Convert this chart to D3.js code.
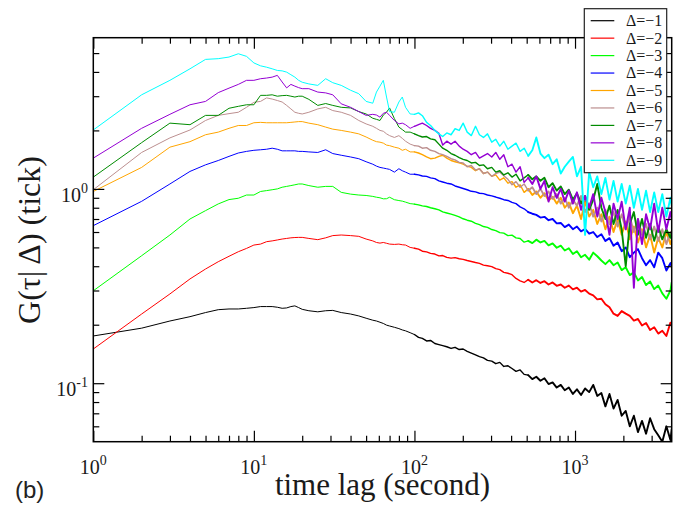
<!DOCTYPE html>
<html>
<head>
<meta charset="utf-8">
<script src="https://cdn.jsdelivr.net/npm/d3@7"></script>
<style>
body{margin:0;background:#fff;}
svg{display:block;}
</style>
</head>
<body>
<svg id="chart" width="681" height="506"></svg>
<script>
// time lag (second): first the integer part, then the long tail
const lags = [1,2,3,4,5,6,7,8,9,10,11,12,13,14,15,16,17,18,19,20,
  22,25,28,31,35,40,45,50,55,58,61,64,67,70,75,80,84,88,94,
  100,106,112,119,126,134,142,150,159,169,179,190,201,213,226,240,254,269,285,303,
  321,340,360,382,405,429,455,482,511,542,574,609,645,684,725,769,815,863,915,970,
  1028,1090,1155,1225,1298,1376,1459,1546,1639,1737,1842,1952,2069,2193,2325,2465,2613,2769,2935,3112,
  3298,3496,3706,3928,4000];

// G(tau|Delta) for Delta = -1 ... -9
const d1 = [0.175,0.192,0.209,0.220,0.231,0.239,0.241,0.241,0.243,0.245,0.248,0.248,0.248,0.246,0.243,0.244,0.248,0.250,0.245,0.240,
  0.236,0.233,0.236,0.237,0.231,0.227,0.222,0.216,0.211,0.209,0.206,0.203,0.199,0.197,0.194,0.191,0.188,0.186,0.182,
  0.178,0.172,0.170,0.165,0.166,0.160,0.158,0.156,0.154,0.151,0.153,0.149,0.150,0.146,0.143,0.140,0.137,0.135,0.131,0.130,
  0.126,0.128,0.122,0.123,0.119,0.115,0.117,0.111,0.110,0.105,0.108,0.103,0.106,0.099,0.101,0.095,0.098,0.092,0.095,0.088,
  0.093,0.087,0.094,0.090,0.098,0.086,0.089,0.076,0.088,0.074,0.082,0.068,0.072,0.060,0.068,0.056,0.064,0.055,0.066,0.058,
  0.054,0.050,0.060,0.051,0.058];
const d2 = [0.150,0.227,0.288,0.344,0.387,0.422,0.450,0.475,0.494,0.514,0.520,0.535,0.540,0.546,0.552,0.556,0.560,0.562,0.563,0.563,
  0.556,0.548,0.560,0.575,0.579,0.575,0.570,0.552,0.540,0.530,0.526,0.530,0.525,0.520,0.518,0.520,0.516,0.514,0.500,
  0.495,0.490,0.478,0.474,0.466,0.462,0.452,0.454,0.444,0.440,0.443,0.437,0.434,0.428,0.423,0.418,0.414,0.405,0.402,0.398,
  0.389,0.384,0.372,0.368,0.362,0.346,0.336,0.330,0.341,0.330,0.339,0.328,0.335,0.322,0.330,0.317,0.322,0.310,0.318,0.304,
  0.310,0.296,0.302,0.289,0.283,0.270,0.272,0.255,0.246,0.228,0.222,0.235,0.228,0.222,0.210,0.214,0.198,0.204,0.188,0.194,
  0.180,0.186,0.175,0.205,0.200];
const d3v = [0.299,0.453,0.579,0.700,0.773,0.837,0.881,0.895,0.930,0.930,0.970,0.980,0.990,1.000,1.020,1.030,1.040,1.050,1.060,1.060,
  1.040,1.020,1.030,1.030,0.960,0.940,0.930,0.925,0.915,0.906,0.900,0.889,0.890,0.906,0.880,0.871,0.865,0.855,0.840,
  0.835,0.828,0.818,0.812,0.800,0.790,0.780,0.762,0.752,0.742,0.730,0.718,0.702,0.690,0.682,0.665,0.655,0.640,0.634,0.618,
  0.610,0.596,0.592,0.575,0.578,0.560,0.556,0.532,0.540,0.526,0.548,0.530,0.540,0.512,0.524,0.498,0.510,0.482,0.495,0.462,
  0.478,0.445,0.458,0.432,0.470,0.450,0.428,0.410,0.430,0.405,0.418,0.382,0.395,0.360,0.372,0.338,0.352,0.320,0.334,0.305,
  0.318,0.290,0.272,0.300,0.330];
const d4 = [0.647,0.863,1.06,1.23,1.33,1.40,1.47,1.53,1.56,1.58,1.59,1.60,1.62,1.60,1.57,1.57,1.57,1.57,1.56,1.56,
  1.55,1.54,1.59,1.52,1.49,1.46,1.43,1.38,1.34,1.31,1.29,1.28,1.27,1.26,1.22,1.27,1.24,1.22,1.19,
  1.19,1.18,1.165,1.16,1.14,1.13,1.10,1.085,1.07,1.06,1.035,1.02,1.005,0.990,0.972,0.965,0.950,0.945,0.930,0.920,
  0.908,0.895,0.880,0.872,0.852,0.840,0.808,0.790,0.760,0.745,0.735,0.712,0.718,0.690,0.700,0.665,0.668,0.636,0.655,0.620,
  0.640,0.605,0.622,0.588,0.600,0.565,0.584,0.540,0.558,0.510,0.530,0.478,0.500,0.445,0.470,0.490,0.440,0.405,0.430,0.395,
  0.470,0.440,0.380,0.415,0.400];
const d5 = [0.97,1.29,1.64,1.75,1.90,1.96,2.05,2.12,2.12,2.19,2.20,2.19,2.19,2.19,2.19,2.19,2.20,2.21,2.22,2.22,
  2.18,2.14,2.08,2.03,2.00,1.96,1.92,1.85,1.78,1.75,1.74,1.72,1.68,1.67,1.64,1.62,1.58,1.60,1.55,
  1.55,1.53,1.50,1.46,1.43,1.44,1.47,1.49,1.44,1.40,1.38,1.36,1.34,1.31,1.29,1.24,1.27,1.20,1.22,1.16,
  1.18,1.11,1.14,1.07,1.09,1.02,1.05,0.96,1.00,0.93,0.97,0.90,0.95,0.87,0.91,0.84,0.90,0.80,0.85,0.75,
  0.82,0.70,0.86,0.72,0.78,0.66,0.74,0.62,0.72,0.60,0.70,0.58,0.68,0.55,0.64,0.53,0.62,0.50,0.58,0.47,
  0.56,0.50,0.60,0.52,0.55];
const d6 = [0.99,1.54,1.83,2.01,2.25,2.39,2.44,2.48,2.63,2.79,2.82,2.94,2.90,2.85,2.80,2.69,2.58,2.48,2.45,2.43,
  2.48,2.58,2.63,2.53,2.48,2.39,2.25,2.16,2.10,2.05,2.00,1.98,1.92,1.88,1.84,1.88,1.82,1.76,1.70,
  1.67,1.66,1.62,1.63,1.58,1.56,1.52,1.50,1.47,1.43,1.41,1.37,1.36,1.30,1.32,1.25,1.27,1.20,1.22,1.16,
  1.20,1.22,1.17,1.12,1.05,1.09,1.02,1.06,0.98,1.02,0.94,1.00,0.92,0.97,0.89,0.94,0.84,0.90,0.80,0.88,
  0.82,0.92,0.76,0.84,0.72,0.80,0.68,0.78,0.66,0.76,0.64,0.74,0.62,0.72,0.60,0.70,0.58,0.66,0.55,0.64,
  0.54,0.62,0.52,0.60,0.58];
const d7 = [1.15,1.73,2.18,2.14,2.39,2.39,2.60,2.66,2.71,2.71,3.03,3.03,3.05,3.00,3.02,3.03,3.00,2.97,3.00,3.00,
  2.89,2.69,2.75,2.69,2.63,2.61,2.50,2.43,2.31,2.28,2.25,2.40,2.48,2.61,2.30,2.08,2.02,1.96,1.96,
  1.92,1.88,1.85,1.86,1.81,1.79,1.70,1.62,1.58,1.52,1.49,1.45,1.42,1.40,1.36,1.37,1.32,1.33,1.27,1.29,
  1.22,1.24,1.18,1.21,1.15,1.19,1.10,1.14,1.18,1.12,1.16,1.10,1.14,1.02,1.07,0.98,1.03,0.94,0.99,0.88,
  0.95,0.84,0.92,0.78,0.88,1.06,0.80,0.70,0.82,0.66,0.78,0.62,0.40,0.66,0.76,0.58,0.70,0.56,0.66,0.54,
  0.64,0.55,0.62,0.56,0.60];
const d8 = [1.44,2.05,2.42,2.71,2.82,3.13,3.30,3.45,3.62,3.62,3.69,3.72,3.76,3.84,3.55,3.31,3.45,3.38,3.32,3.28,
  3.28,3.15,3.12,3.05,2.74,2.63,2.50,2.39,2.42,2.40,2.34,2.45,2.48,2.39,2.25,2.16,2.18,2.14,2.05,
  2.10,2.14,2.18,2.12,2.05,2.00,1.93,1.68,1.76,1.70,1.76,1.66,1.60,1.56,1.50,1.54,1.44,1.48,1.52,1.46,
  1.54,1.42,1.50,1.30,1.34,1.22,1.30,1.08,1.14,1.06,1.16,1.00,1.10,0.86,1.02,0.90,1.00,0.86,0.98,0.84,
  0.96,0.78,0.92,0.80,0.94,0.72,0.90,0.76,0.58,0.84,0.70,0.86,0.62,0.80,0.31,0.70,0.52,0.74,0.62,0.84,
  0.60,0.80,0.62,0.76,0.70];
const d9 = [2.01,3.05,3.62,4.15,4.64,4.68,4.77,4.96,4.81,4.45,4.30,4.23,4.15,4.07,4.05,3.99,3.87,3.76,3.62,3.54,
  3.47,3.41,3.69,3.52,3.41,3.22,3.09,2.82,2.76,3.15,3.38,3.62,2.97,2.50,2.48,2.80,2.97,2.63,2.43,
  2.42,2.46,2.38,2.20,2.12,2.00,1.92,1.86,1.94,1.90,2.04,2.00,2.18,1.96,1.88,2.10,1.90,1.84,1.92,1.74,
  1.80,1.66,1.76,1.60,1.66,1.72,1.56,1.62,1.48,1.58,1.84,1.52,1.44,1.50,1.34,1.42,1.20,1.30,1.38,1.46,
  1.16,1.30,0.58,1.22,1.02,1.16,0.94,1.14,0.88,1.10,0.86,1.06,0.84,1.04,0.80,1.00,0.78,0.98,0.76,0.96,
  0.76,0.94,0.72,0.90,0.82];

const seriesValues = [d1, d2, d3v, d4, d5, d6, d7, d8, d9];
const seriesNames = ["Δ=−1","Δ=−2","Δ=−3","Δ=−4","Δ=−5","Δ=−6","Δ=−7","Δ=−8","Δ=−9"];
const seriesColors = ["#000000","#ff0000","#00ff00","#0000ff","#ffa500","#bc8f8f","#008b00","#9400d3","#00ffff"];

const xMajor = [1, 10, 100, 1000];
const xMajorExp = ["0", "1", "2", "3"];
const xMinor = [2,3,4,5,6,7,8,9,20,30,40,50,60,70,80,90,200,300,400,500,600,700,800,900,2000,3000];
const yMajor = [0.1, 1];
const yMajorExp = ["-1", "0"];
const yMinor = [0.06,0.07,0.08,0.09,0.2,0.3,0.4,0.5,0.6,0.7,0.8,0.9,2,3,4,5];

const serif = "'Liberation Serif','Times New Roman',serif";
const ink = "#1a1a1a";

const plotL = 93.3, plotR = 671.7, plotT = 37.7, plotB = 441.7;

const x = d3.scaleLog().domain([1, 4000]).range([plotL, plotR]);
const y = d3.scaleLog().domain([0.05, 6]).range([plotB, plotT]);

const svg = d3.select("#chart");

svg.append("defs").append("clipPath").attr("id", "plotClip")
  .append("rect")
  .attr("x", plotL).attr("y", plotT)
  .attr("width", plotR - plotL).attr("height", plotB - plotT);

// curves: the dense, noisy tail looks thicker in the original, so the
// path is drawn in pieces of growing width (piece ends are shared lags)
const pieces = [[1, 100, 1.0], [100, 511, 1.4], [511, 4000, 1.9]];
const line = d3.line().x(d => x(d[0])).y(d => y(d[1]));
const curves = svg.append("g").attr("clip-path", "url(#plotClip)");
seriesValues.forEach((vals, s) => {
  const pts = lags.map((t, i) => [t, vals[i]]);
  pieces.forEach(([a, b, w]) => {
    curves.append("path")
      .attr("fill", "none")
      .attr("stroke", seriesColors[s])
      .attr("stroke-width", w)
      .attr("stroke-linejoin", "round")
      .attr("stroke-linecap", "round")
      .attr("d", line(pts.filter(p => p[0] >= a && p[0] <= b)));
  });
});

// ticks on all four sides, pointing inward
const tickAxis = (axisFn, scale, values, size, tr) => {
  const g = svg.append("g").attr("transform", tr)
    .call(axisFn(scale).tickValues(values).tickSize(size).tickSizeOuter(0).tickFormat(""));
  g.select(".domain").remove();
  g.selectAll(".tick line").attr("stroke", "#000").attr("stroke-width", 1.2);
};
tickAxis(d3.axisBottom, x, xMajor, -11, `translate(0,${plotB})`);
tickAxis(d3.axisBottom, x, xMinor, -6, `translate(0,${plotB})`);
tickAxis(d3.axisTop, x, xMajor, -11, `translate(0,${plotT})`);
tickAxis(d3.axisTop, x, xMinor, -6, `translate(0,${plotT})`);
tickAxis(d3.axisLeft, y, yMajor, -11, `translate(${plotL},0)`);
tickAxis(d3.axisLeft, y, yMinor, -6, `translate(${plotL},0)`);
tickAxis(d3.axisRight, y, yMajor, -11, `translate(${plotR},0)`);
tickAxis(d3.axisRight, y, yMinor, -6, `translate(${plotR},0)`);

svg.append("rect")
  .attr("x", plotL).attr("y", plotT)
  .attr("width", plotR - plotL).attr("height", plotB - plotT)
  .attr("fill", "none").attr("stroke", "#000").attr("stroke-width", 1.5);

// tick labels 10^n
svg.append("g").selectAll("text").data(xMajor).join("text")
  .attr("x", d => x(d)).attr("y", 474)
  .attr("text-anchor", "middle")
  .attr("font-family", serif).attr("font-size", 20).attr("fill", ink)
  .each(function (d, i) {
    const t = d3.select(this);
    t.append("tspan").text("10");
    t.append("tspan").attr("dy", -9).attr("font-size", 14).text(xMajorExp[i]);
  });

svg.append("g").selectAll("text").data(yMajor).join("text")
  .attr("x", 88).attr("y", d => y(d) + 13)
  .attr("text-anchor", "end")
  .attr("font-family", serif).attr("font-size", 20).attr("fill", ink)
  .each(function (d, i) {
    const t = d3.select(this);
    t.append("tspan").text("10");
    t.append("tspan").attr("dy", -9).attr("font-size", 14).text(yMajorExp[i]);
  });

// axis titles
svg.append("text")
  .attr("x", (plotL + plotR) / 2).attr("y", 495)
  .attr("text-anchor", "middle")
  .attr("font-family", serif).attr("font-size", 31).attr("fill", ink)
  .text("time lag (second)");

svg.append("text")
  .attr("transform", "translate(40,240) rotate(-90)")
  .attr("text-anchor", "middle")
  .attr("font-family", serif).attr("font-size", 32).attr("fill", ink)
  .text("G(τ| Δ) (tick)");

svg.append("text")
  .attr("x", 15).attr("y", 498)
  .attr("font-family", "'Liberation Sans',Arial,sans-serif")
  .attr("font-size", 24).attr("fill", "#222")
  .text("(b)");

// legend
const legend = svg.append("g");
legend.append("rect")
  .attr("x", 584.3).attr("y", 8.7).attr("width", 82.4).attr("height", 164)
  .attr("fill", "#fff").attr("stroke", "#222").attr("stroke-width", 1.2);
const entry = legend.selectAll("g.entry").data(seriesNames).join("g")
  .attr("class", "entry")
  .attr("transform", (d, i) => `translate(0,${20.7 + i * 17.45})`);
entry.append("line")
  .attr("x1", 590.7).attr("x2", 614.3)
  .attr("stroke", (d, i) => seriesColors[i]).attr("stroke-width", 1.2);
entry.append("text")
  .attr("x", 626).attr("y", 5.4)
  .attr("font-family", serif).attr("font-size", 16).attr("fill", ink)
  .text(d => d);
</script>
</body>
</html>
